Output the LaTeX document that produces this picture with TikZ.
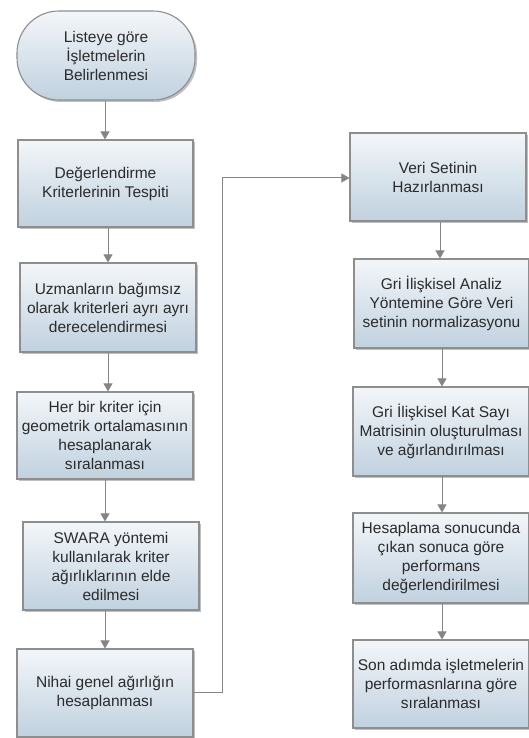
\documentclass[tikz,border=0pt]{standalone}
\usepackage{fontspec}
\setmainfont{Liberation Sans}
\usetikzlibrary{arrows.meta,shadows}
\definecolor{boxtop}{HTML}{F3F6F9}
\definecolor{boxbot}{HTML}{C0D1DF}
\definecolor{edge}{HTML}{8E8E8E}
\definecolor{conn}{HTML}{858585}
\definecolor{txt}{HTML}{2B2B2B}
\tikzset{
  stepbox/.style={draw=edge, line width=1.1pt, top color=boxtop, bottom color=boxbot,
    minimum width=176pt, minimum height=88pt, align=center, text=txt,
    font=\fontsize{15.5pt}{19pt}\selectfont, inner sep=0pt,
    drop shadow={shadow xshift=2pt, shadow yshift=-2pt, opacity=0.25, fill=black}},
  startbox/.style={stepbox, rounded corners=42pt},
  arr/.style={draw=conn, line width=1pt, -{Triangle[width=9pt,length=8pt]}, color=conn},
}
\begin{document}
\begin{tikzpicture}[x=1pt,y=-1pt]
\useasboundingbox (0,0) rectangle (529,738);
% left column
\node[startbox, minimum width=178pt, minimum height=89pt] (s) at (106,55.5) {Listeye göre\\İşletmelerin\\Belirlenmesi};
\node[stepbox, minimum width=175pt, minimum height=87pt] (b2) at (105.5,183.5) {Değerlendirme\\Kriterlerinin Tespiti};
\node[stepbox, minimum height=89pt] (b3) at (108,307.5) {Uzmanların bağımsız\\olarak kriterleri ayrı ayrı\\derecelendirmesi};
\node[stepbox, minimum height=87pt] (b4) at (105,435.5) {Her bir kriter için\\geometrik ortalamasının\\hesaplanarak\\sıralanması};
\node[stepbox] (b5) at (111,566) {SWARA yöntemi\\kullanılarak kriter\\ağırlıklarının elde\\edilmesi};
\node[stepbox] (b6) at (105,693) {Nihai genel ağırlığın\\hesaplanması};
% right column
\node[stepbox] (r1) at (438,177) {Veri Setinin\\Hazırlanması};
\node[stepbox, minimum width=175pt, minimum height=89pt] (r2) at (441.5,303.5) {Gri İlişkisel Analiz\\Yöntemine Göre Veri\\setinin normalizasyonu};
\node[stepbox, minimum height=89pt] (r3) at (441,431.5) {Gri İlişkisel Kat Sayı\\Matrisinin oluşturulması\\ve ağırlandırılması};
\node[stepbox, minimum height=90pt] (r4) at (441,558) {Hesaplama sonucunda\\çıkan sonuca göre\\performans\\değerlendirilmesi};
\node[stepbox] (r5) at (441,684) {Son adımda işletmelerin\\performasnlarına göre\\sıralanması};
% connectors left
\draw[arr] (105,0 |- s.south) -- (105,0 |- b2.north);
\draw[arr] (108,0 |- b2.south) -- (108,0 |- b3.north);
\draw[arr] (108,0 |- b3.south) -- (108,0 |- b4.north);
\draw[arr] (105,0 |- b4.south) -- (105,0 |- b5.north);
\draw[arr] (105,0 |- b5.south) -- (105,0 |- b6.north);
% cross connector
\coordinate (k1) at (222,692);
\coordinate (k2) at (222,178);
\draw[arr] (b6.east |- k1) -- (k1) -- (k2) -- (r1.west |- k2);
% connectors right
\draw[arr] (440,0 |- r1.south) -- (440,0 |- r2.north);
\draw[arr] (442,0 |- r2.south) -- (442,0 |- r3.north);
\draw[arr] (442,0 |- r3.south) -- (442,0 |- r4.north);
\draw[arr] (442,0 |- r4.south) -- (442,0 |- r5.north);
\end{tikzpicture}
\end{document}
